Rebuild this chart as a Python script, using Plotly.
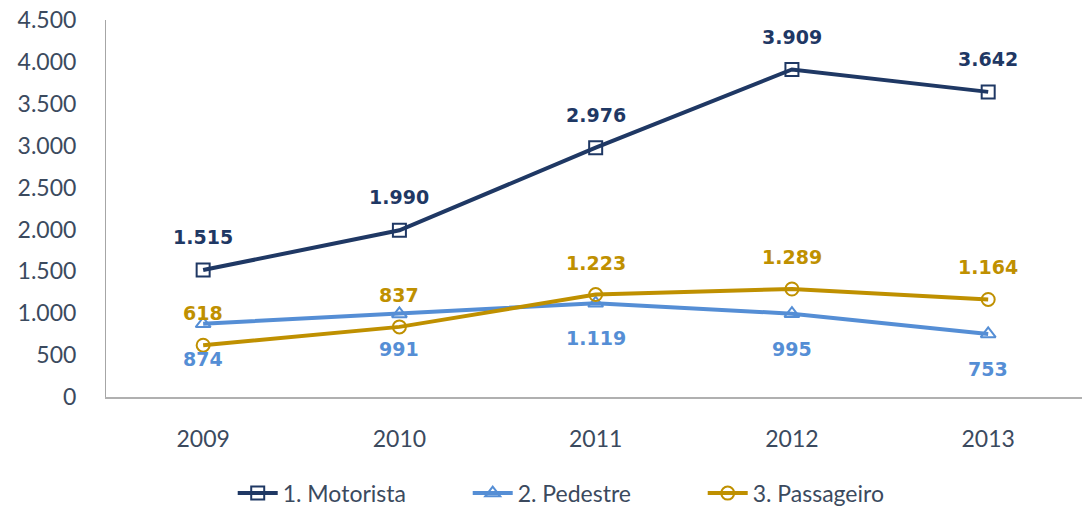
import plotly.graph_objects as go

years = ["2009", "2010", "2011", "2012", "2013"]
motorista = [1515, 1990, 2976, 3909, 3642]
pedestre = [874, 991, 1119, 995, 753]
passageiro = [618, 837, 1223, 1289, 1164]
y_ticks = [0, 500, 1000, 1500, 2000, 2500, 3000, 3500, 4000, 4500]

def fmt(v):
    return f"{v:,}".replace(",", ".")

series = [
    ("1. Motorista", motorista, "#1f3864", "square-open", 33),
    ("2. Pedestre", pedestre, "#558ed5", "triangle-up-open", -35),
    ("3. Passageiro", passageiro, "#bf9000", "circle-open", 32),
]

fig = go.Figure()
for name, vals, color, sym, shift in series:
    fig.add_trace(go.Scatter(
        x=years, y=vals, name=name, mode="lines+markers",
        line=dict(color=color, width=4),
        marker=dict(symbol=sym, size=13, color=color, line=dict(color=color, width=2)),
    ))
    for i, v in enumerate(vals):
        fig.add_annotation(
            x=i, y=v, xref="x", yref="y", text=f"<b>{fmt(v)}</b>", showarrow=False, yshift=shift,
            font=dict(family="DejaVu Sans", size=19, color=color),
        )

fig.update_layout(
    width=1082, height=510,
    margin=dict(l=106, r=0, t=20, b=113),
    paper_bgcolor="white", plot_bgcolor="white",
    separators=",.",
    font=dict(family="Lato", size=23, color="#3b4a5e"),
    showlegend=True,
    legend=dict(orientation="h", x=0.491, xanchor="center", yref="container", y=0.033,
                yanchor="middle",
                font=dict(size=23, color="#3b4a5e"), itemwidth=40, traceorder="normal",
                entrywidth=180, entrywidthmode="pixels"),
    xaxis=dict(type="category", showgrid=False, showline=True, linecolor="#b0b0b0", linewidth=2,
               ticks="", tickfont=dict(size=23), range=[-0.495, 4.478], ticklabelstandoff=20,
               automargin=False),
    yaxis=dict(range=[0, 4500], tickvals=y_ticks, ticktext=[fmt(t) for t in y_ticks],
               showgrid=False, showline=True, linecolor="#a6a6a6", linewidth=1, ticks="",
               tickfont=dict(size=23), zeroline=False, ticklabelstandoff=24, automargin=False),
)

fig.write_html("out.html", config={"displayModeBar": False},
               post_script="document.body.style.margin='0';document.body.style.overflow='hidden';")
